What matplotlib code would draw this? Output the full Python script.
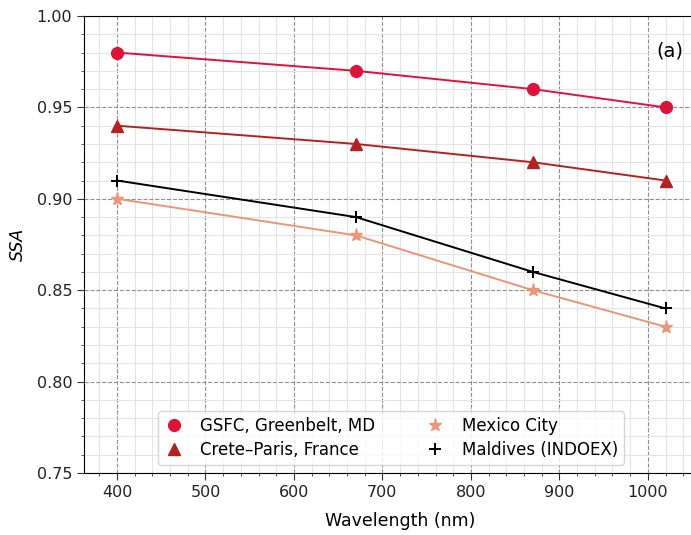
import matplotlib.pyplot as plt
from matplotlib.lines import Line2D
from matplotlib.ticker import MultipleLocator

# Single scattering albedo vs wavelength
wavelength = [400, 670, 870, 1020]
ssa_gsfc = [0.98, 0.97, 0.96, 0.95]
ssa_crete = [0.94, 0.93, 0.92, 0.91]
ssa_mexico = [0.90, 0.88, 0.85, 0.83]
ssa_maldives = [0.91, 0.89, 0.86, 0.84]

sites = ['GSFC, Greenbelt, MD', 'Crete\u2013Paris, France',
         'Mexico City', 'Maldives (INDOEX)']
colors = ['crimson', 'firebrick', 'darksalmon', 'black']
markers = ['o', '^', '*', '+']
msizes = [8.5, 8.5, 9.5, 9]

fig = plt.figure(figsize=(6.91, 5.35), dpi=100)
ax = fig.add_axes([84 / 691, 62 / 535, 632 / 691, 457 / 535])

handles = []
for ssa, lab, c, m, ms in zip([ssa_gsfc, ssa_crete, ssa_mexico, ssa_maldives],
                              sites, colors, markers, msizes):
    ax.plot(wavelength, ssa, color=c, marker=m, markersize=ms,
            markeredgewidth=1.4 if m == '+' else 1.0, lw=1.4)
    handles.append(Line2D([], [], ls='none', color=c, marker=m, markersize=ms,
                          markeredgewidth=1.4 if m == '+' else 1.0, label=lab))

ax.set_xlim(362.7, 1077)
ax.set_ylim(0.75, 1.00)
ax.xaxis.set_major_locator(MultipleLocator(100))
ax.xaxis.set_minor_locator(MultipleLocator(20))
ax.yaxis.set_major_locator(MultipleLocator(0.05))
ax.yaxis.set_minor_locator(MultipleLocator(0.01))
ax.yaxis.set_major_formatter(plt.FormatStrFormatter('%.2f'))

ax.grid(which='minor', color='#e4e4e4', linestyle='-', linewidth=0.8)
ax.grid(which='major', color='#8f8f8f', linestyle='--', linewidth=0.8)
ax.set_axisbelow(True)

ax.tick_params(which='both', labelsize=11.5, colors='#333333', labelcolor='#222222')
ax.tick_params(which='major', length=5)
ax.tick_params(which='minor', length=2.5)

ax.set_xlabel('Wavelength (nm)', fontsize=12.5, labelpad=9)
ax.set_ylabel('SSA', fontsize=12.5, style='italic', labelpad=7)
ax.text(1025, 0.981, '(a)', fontsize=14, ha='center', va='center')

ax.legend(handles=handles, ncol=2, fontsize=12, loc='lower center',
          bbox_to_anchor=(391 / 691, 62 / 535), bbox_transform=fig.transFigure,
          frameon=True, edgecolor='#cccccc', columnspacing=3.0,
          handlelength=1.2, handletextpad=1.0, labelspacing=0.35, borderpad=0.35)

plt.savefig('out.png', dpi=100)
